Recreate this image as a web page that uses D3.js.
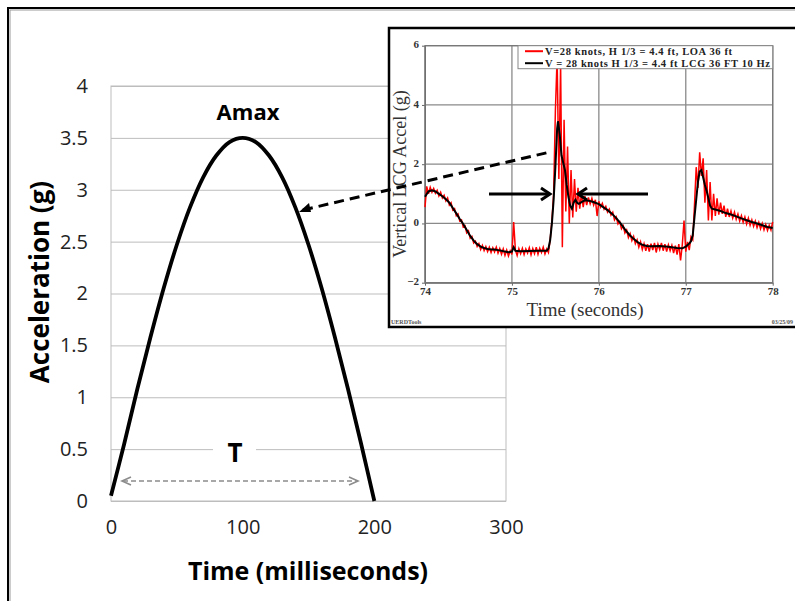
<!DOCTYPE html>
<html>
<head>
<meta charset="utf-8">
<script src="https://cdn.jsdelivr.net/npm/d3@7"></script>
<style>
  body { margin: 0; background: #fff; }
  svg { display: block; }
</style>
</head>
<body>
<svg width="795" height="601"></svg>
<script>
// half-sine shock pulse
const pulseTime  = [0, 10, 20, 30, 40, 50, 60, 70, 80, 90, 100, 110, 120, 130, 140, 150, 160, 170, 180, 190, 200];
const pulseAccel = [0.05, 0.55, 1.08, 1.58, 2.05, 2.47, 2.83, 3.12, 3.33, 3.46, 3.5, 3.46, 3.33, 3.12, 2.83, 2.47, 2.05, 1.58, 1.08, 0.55, 0];
const mainXTicks = [0, 100, 200, 300];
const mainYTicks = [0, 0.5, 1, 1.5, 2, 2.5, 3, 3.5, 4];

// inset: raw record (red), sampled every 0.02 s from 74 s
const rawStart = 74, rawStep = 0.02;
const rawAccel = [
  0.55, 1.25, 1.00, 1.22, 1.05, 1.18, 1.02, 1.12, 0.93, 1.05,
  0.86, 0.95, 0.76, 0.86, 0.62, 0.70, 0.45, 0.50, 0.26, 0.32,
  0.08, 0.12, -0.12, -0.08, -0.32, -0.25, -0.50, -0.44, -0.66, -0.60,
  -0.78, -0.68, -0.88, -0.74, -0.92, -0.78, -0.95, -0.80, -0.98, -0.82,
  -0.96, -0.80, -1.00, -0.85, -1.04, -0.86, -1.08, -0.90, -1.10, -0.92,
  -1.05, 0.05, -0.90, -1.08, -0.85, -1.02, -0.84, -1.05, -0.86, -1.00,
  -0.82, -1.06, -0.85, -1.02, -0.80, -1.04, -0.84, -0.98, -0.80, -1.03,
  -0.86, -0.98, -0.55, 0.10, 1.0, 3.8, 5.6, 1.5, 5.4, -0.8,
  3.5, 0.4, 2.6, 0.0, 1.8, 0.2, 1.5, 0.4, 1.2, 0.5,
  1.0, 0.55, 0.92, 0.62, 0.88, 0.66, 0.85, 0.62, 0.80, 0.25,
  0.75, 0.55, 0.68, 0.48, 0.58, 0.38, 0.48, 0.28, 0.38, 0.12,
  0.22, -0.02, 0.06, -0.18, -0.08, -0.32, -0.22, -0.48, -0.34, -0.58,
  -0.44, -0.68, -0.55, -0.80, -0.62, -0.88, -0.68, -0.92, -0.70, -0.95,
  -0.68, -0.90, -0.66, -0.98, -0.70, -0.88, -0.66, -0.92, -0.70, -0.95,
  -0.72, -0.92, -0.74, -1.00, -0.75, -1.05, -0.70, -1.25, -0.72, 0.10,
  -0.95, -0.62, -0.90, -0.45, -0.55, 0.6, 1.9, 1.2, 2.4, 1.6,
  2.2, 0.7, 1.8, 0.1, 1.4, 0.1, 1.0, 0.25, 0.85, 0.3,
  0.7, 0.32, 0.6, 0.22, 0.5, 0.22, 0.42, 0.18, 0.38, 0.14,
  0.32, 0.08, 0.26, 0.04, 0.22, -0.02, 0.18, -0.06, 0.12, -0.10,
  0.08, -0.14, 0.04, -0.18, 0.0, -0.22, -0.04, -0.24, -0.06, -0.22,
  0.05
];

// inset: 10 Hz filtered record (black)
const filtTime = [74.00, 74.04, 74.08, 74.12, 74.16, 74.20, 74.24, 74.28, 74.32, 74.36, 74.40, 74.44, 74.48, 74.52, 74.56,
  74.60, 74.64, 74.68, 74.72, 74.76, 74.80, 74.84, 74.88, 74.92, 74.96, 75.00, 75.02, 75.04, 75.10, 75.20, 75.30, 75.40,
  75.42, 75.44, 75.46, 75.48, 75.50, 75.52, 75.53, 75.55, 75.57, 75.59, 75.61, 75.63, 75.65, 75.67, 75.69, 75.71, 75.73,
  75.75, 75.77, 75.80, 75.84, 75.88, 75.92, 75.96, 76.00, 76.05, 76.10, 76.15, 76.20, 76.25, 76.30, 76.35, 76.40, 76.45,
  76.50, 76.55, 76.60, 76.70, 76.80, 76.90, 76.96, 77.00, 77.04, 77.06, 77.08, 77.10, 77.12, 77.14, 77.16, 77.18, 77.20,
  77.22, 77.24, 77.26, 77.28, 77.30, 77.34, 77.40, 77.46, 77.52, 77.58, 77.64, 77.70, 77.76, 77.82, 77.88, 77.94, 78.00];
const filtAccel = [0.90, 1.08, 1.12, 1.08, 1.00, 0.92, 0.82, 0.70, 0.52, 0.34, 0.15, -0.02, -0.22, -0.42, -0.58,
  -0.70, -0.78, -0.83, -0.86, -0.88, -0.88, -0.90, -0.92, -0.95, -0.97, -0.95, -0.80, -0.92, -0.94, -0.93, -0.92, -0.92,
  -0.85, -0.56, 0.0, 0.8, 1.9, 3.2, 3.45, 3.0, 2.3, 2.05, 1.8, 1.3, 0.9, 0.6, 0.5, 0.7, 0.8,
  0.7, 0.66, 0.72, 0.78, 0.77, 0.74, 0.70, 0.65, 0.55, 0.45, 0.33, 0.18, 0.0, -0.2, -0.38, -0.52, -0.64,
  -0.72, -0.76, -0.77, -0.76, -0.79, -0.83, -0.84, -0.78, -0.68, -0.6, -0.4, 0.2, 0.8, 1.4, 1.75, 1.8, 1.55,
  1.3, 1.1, 0.85, 0.6, 0.5, 0.47, 0.42, 0.35, 0.30, 0.24, 0.17, 0.11, 0.05, 0.0, -0.06, -0.12, -0.15];
const insetXTicks = [74, 75, 76, 77, 78];
const insetYTicks = [-2, 0, 2, 4, 6];
const legendLabels = ["V=28 knots, H 1/3 = 4.4 ft, LOA 36 ft", "V = 28 knots H 1/3 = 4.4 ft LCG 36 FT 10 Hz"];
const legendColors = ["#ff0000", "#000000"];
const legendWidths = [187, 225];

const svg = d3.select("svg");
const sans = "'Open Sans', Lato, sans-serif";
const serif = "'Liberation Serif', 'DejaVu Serif', serif";

// outer slide frame
svg.append("rect").attr("x", 8).attr("y", 8).attr("width", 820).attr("height", 620)
    .attr("fill", "none").attr("stroke", "#000").attr("stroke-width", 2);
svg.append("rect").attr("x", 10).attr("y", 10).attr("width", 820).attr("height", 620)
    .attr("fill", "none").attr("stroke", "#999").attr("stroke-width", 1);

// ---- main chart ----
const x = d3.scaleLinear().domain([0, 300]).range([111, 506]);
const y = d3.scaleLinear().domain([0, 4]).range([501, 86]);

const gy = svg.append("g")
    .attr("transform", `translate(${x(0)},0)`)
    .call(d3.axisLeft(y).tickValues(mainYTicks).tickSize(-(x(300) - x(0))).tickPadding(23).tickFormat(d3.format("")));
gy.select(".domain").remove();
gy.selectAll("line").attr("stroke", "#bdbdbd");
gy.selectAll("text").attr("font-family", sans).attr("font-size", 20).attr("fill", "#222");

const gx = svg.append("g")
    .attr("transform", `translate(0,${y(0)})`)
    .call(d3.axisBottom(x).tickValues(mainXTicks).tickSize(0).tickPadding(19));
gx.select(".domain").remove();
gx.selectAll("text").attr("font-family", sans).attr("font-size", 20).attr("fill", "#222");

svg.append("rect")
    .attr("x", x(0)).attr("y", y(4))
    .attr("width", x(300) - x(0)).attr("height", y(0) - y(4))
    .attr("fill", "none").attr("stroke", "#bdbdbd");

svg.append("text")
    .attr("x", 308).attr("y", 580)
    .attr("text-anchor", "middle")
    .attr("font-family", sans).attr("font-size", 25).attr("font-weight", "bold")
    .text("Time (milliseconds)");

svg.append("text")
    .attr("transform", "translate(49,282) rotate(-90)")
    .attr("text-anchor", "middle")
    .attr("font-family", sans).attr("font-size", 26).attr("font-weight", "bold")
    .text("Acceleration (g)");

// T label with white knock-out over the grid line
svg.append("rect").attr("x", 213).attr("y", y(0.5) - 2).attr("width", 43).attr("height", 4).attr("fill", "#fff");
svg.append("text")
    .attr("x", 235).attr("y", 462)
    .attr("text-anchor", "middle")
    .attr("font-family", sans).attr("font-size", 26).attr("font-weight", "bold")
    .text("T");

// dashed duration arrow
const ty = 481;
svg.append("line")
    .attr("x1", 123).attr("x2", 357).attr("y1", ty).attr("y2", ty)
    .attr("stroke", "#8c8c8c").attr("stroke-width", 1.6).attr("stroke-dasharray", "5,3");
svg.append("path")
    .attr("d", `M131,${ty - 4}L122,${ty}L131,${ty + 4}M349,${ty - 4}L358,${ty}L349,${ty + 4}`)
    .attr("fill", "none").attr("stroke", "#8c8c8c").attr("stroke-width", 1.6);

svg.append("path")
    .datum(pulseTime.map((t, i) => [t, pulseAccel[i]]))
    .attr("fill", "none").attr("stroke", "#000").attr("stroke-width", 3.8)
    .attr("d", d3.line().x(d => x(d[0])).y(d => y(d[1])).curve(d3.curveCatmullRom));

svg.append("text")
    .attr("x", 248).attr("y", 120)
    .attr("text-anchor", "middle")
    .attr("font-family", sans).attr("font-size", 22).attr("font-weight", "bold")
    .text("Amax");

// ---- inset record ----
const inset = svg.append("g");
inset.append("rect")
    .attr("x", 389).attr("y", 28).attr("width", 430).attr("height", 299)
    .attr("fill", "#fff").attr("stroke", "#000").attr("stroke-width", 2.5);

const ix = d3.scaleLinear().domain([74, 78]).range([425, 772.7]);
const iy = d3.scaleLinear().domain([-2, 6]).range([282.7, 45.7]);
const pw = ix(78) - ix(74), ph = iy(-2) - iy(6);

const grid = inset.append("g").attr("stroke", "#8a8a8a").attr("stroke-width", 1.3);
grid.selectAll(".gx").data(insetXTicks).join("line")
    .attr("x1", d => ix(d)).attr("x2", d => ix(d)).attr("y1", iy(6)).attr("y2", iy(-2));
grid.selectAll(".gy").data(insetYTicks).join("line")
    .attr("y1", d => iy(d)).attr("y2", d => iy(d)).attr("x1", ix(74)).attr("x2", ix(78));

const iax = inset.append("g")
    .attr("transform", `translate(0,${iy(-2)})`)
    .call(d3.axisBottom(ix).tickValues(insetXTicks).tickFormat(d3.format("d")).tickSize(3).tickPadding(2).tickSizeOuter(0));
const iay = inset.append("g")
    .attr("transform", `translate(${ix(74)},0)`)
    .call(d3.axisLeft(iy).tickValues(insetYTicks).tickFormat(d3.format("d")).tickSize(3).tickPadding(3).tickSizeOuter(0));
[iax, iay].forEach(g => {
  g.select(".domain").attr("stroke", "#666");
  g.selectAll("line").attr("stroke", "#666");
  g.selectAll("text").attr("font-family", serif).attr("font-size", 11).attr("font-weight", "bold").attr("fill", "#333");
});
iay.selectAll("text").attr("dy", "0.2em");

inset.append("rect")
    .attr("x", ix(74)).attr("y", iy(6)).attr("width", pw).attr("height", ph)
    .attr("fill", "none").attr("stroke", "#777").attr("stroke-width", 1.2);

inset.append("path")
    .datum(rawAccel.map((v, i) => [rawStart + i * rawStep, v]))
    .attr("fill", "none").attr("stroke", "#ff0000").attr("stroke-width", 1.5)
    .attr("d", d3.line().x(d => ix(d[0])).y(d => iy(d[1])));

inset.append("path")
    .datum(filtTime.map((t, i) => [t, filtAccel[i]]))
    .attr("fill", "none").attr("stroke", "#000").attr("stroke-width", 2)
    .attr("d", d3.line().x(d => ix(d[0])).y(d => iy(d[1])));

// legend
const lg = inset.append("g");
lg.append("rect").attr("x", 518).attr("y", iy(6)).attr("width", ix(78) - 518).attr("height", 23)
    .attr("fill", "#fff").attr("stroke", "#888");
legendLabels.forEach((lab, i) => {
  const ly = iy(6) + 5.5 + i * 12;
  lg.append("line").attr("x1", 525).attr("x2", 543).attr("y1", ly).attr("y2", ly)
      .attr("stroke", legendColors[i]).attr("stroke-width", 2);
  lg.append("text").attr("x", 545).attr("y", ly + 3.6)
      .attr("font-family", serif).attr("font-size", 10.5).attr("font-weight", "bold").attr("fill", "#222")
      .attr("textLength", legendWidths[i]).attr("lengthAdjust", "spacing")
      .text(lab);
});

inset.append("text")
    .attr("x", 585).attr("y", 316)
    .attr("text-anchor", "middle")
    .attr("font-family", serif).attr("font-size", 19).attr("fill", "#333")
    .text("Time (seconds)");
inset.append("text")
    .attr("transform", "translate(406,174) rotate(-90)")
    .attr("text-anchor", "middle")
    .attr("font-family", serif).attr("font-size", 18).attr("fill", "#333")
    .text("Vertical LCG Accel (g)");
inset.append("text").attr("x", 391).attr("y", 324)
    .attr("font-family", serif).attr("font-size", 6).attr("font-weight", "bold").attr("fill", "#555")
    .text("UERDTools");
inset.append("text").attr("x", 793).attr("y", 324).attr("text-anchor", "end")
    .attr("font-family", serif).attr("font-size", 6).attr("font-weight", "bold").attr("fill", "#555")
    .text("03/25/09");

// ---- annotations ----
const arrowPen = { stroke: "#000", "stroke-width": 3, fill: "none" };
function pen(sel) { Object.entries(arrowPen).forEach(([k, v]) => sel.attr(k, v)); return sel; }

// dashed link from pulse curve to the inset peak
pen(svg.append("line").attr("x1", 303).attr("y1", 210).attr("x2", 550).attr("y2", 152))
    .attr("stroke-dasharray", "10,6");
svg.append("path").attr("d", "M299,212L309,203L311,212Z").attr("fill", "#000");

// pulse-duration arrows in the inset
pen(svg.append("line").attr("x1", 489).attr("x2", 549).attr("y1", 194).attr("y2", 194));
pen(svg.append("path").attr("d", "M541,188L550,194L541,200"));
pen(svg.append("line").attr("x1", 648).attr("x2", 579).attr("y1", 194).attr("y2", 194));
pen(svg.append("path").attr("d", "M587,188L578,194L587,200"));
</script>
</body>
</html>
